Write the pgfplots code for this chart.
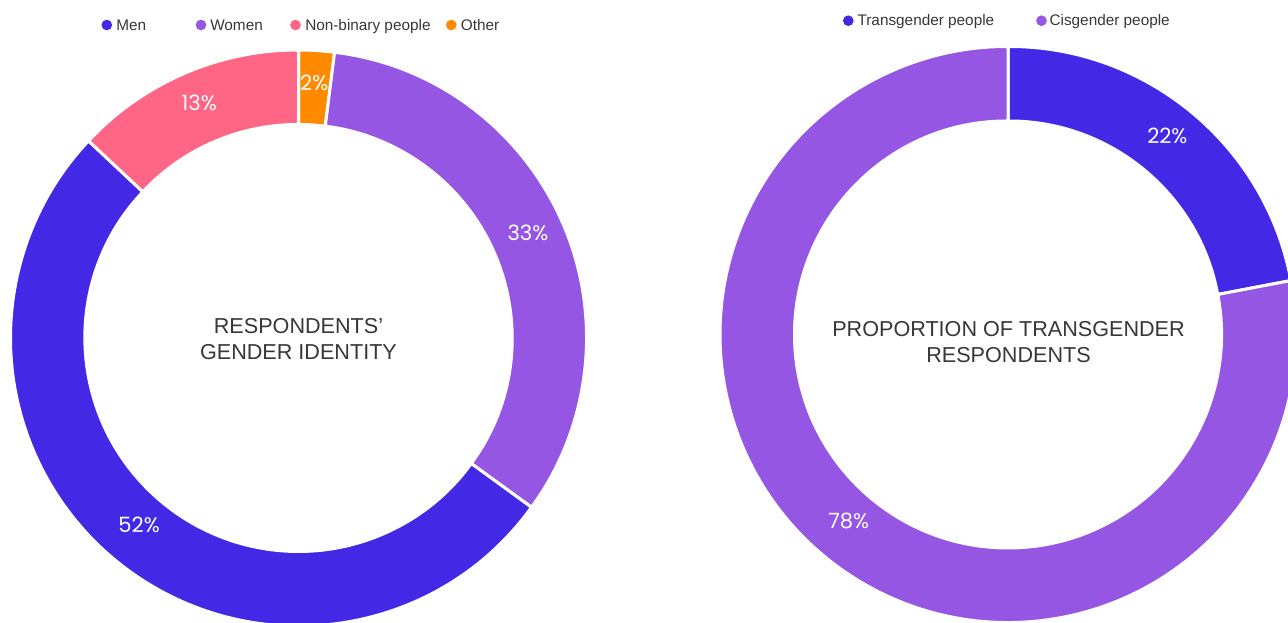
\documentclass[border=0pt]{standalone}
\usepackage{pgfplots}
\pgfplotsset{compat=1.18}
\usepackage{pgfplotstable}
\usepackage{fontspec}
\setmainfont{Liberation Sans}
\newfontfamily\pop{Poppins}
\definecolor{cMen}{RGB}{67,41,230}
\definecolor{cWomen}{RGB}{149,86,227}
\definecolor{cNB}{RGB}{255,101,132}
\definecolor{cOther}{RGB}{255,138,0}
\definecolor{ctext}{RGB}{55,55,55}

% shares in percent, clockwise from 12 o'clock
\pgfplotstableread{
label value color
Other 2 cOther
Women 33 cWomen
Men 52 cMen
Nonbinary 13 cNB
}\genderdata
\pgfplotstableread{
label value color
Transgender 22 cMen
Cisgender 78 cWomen
}\transdata

% #1 table, #2 cx, #3 cy, #4 outer radius, #5 inner radius, #6 label radius
\newcommand{\donut}[6]{%
  \pgfplotstablegetrowsof{#1}%
  \pgfmathtruncatemacro\nrows{\pgfplotsretval-1}%
  \gdef\cumsum{0}%
  \foreach \i in {0,...,\nrows}{%
    \pgfplotstablegetelem{\i}{value}\of{#1}\let\val\pgfplotsretval
    \pgfplotstablegetelem{\i}{color}\of{#1}\let\col\pgfplotsretval
    \pgfmathsetmacro\ta{\cumsum*3.6}%
    \pgfmathsetmacro\tb{(\cumsum+\val)*3.6}%
    \pgfmathsetmacro\tm{(\ta+\tb)/2}%
    \fill[fill=\col, draw=white, line width=2.25pt, line join=round, rounded corners=1.2pt]
      (axis cs:{#2+#4*sin(\ta)},{#3+#4*cos(\ta)})
      arc[start angle={90-\ta}, end angle={90-\tb}, radius={#4*0.75pt}]
      -- (axis cs:{#2+#5*sin(\tb)},{#3+#5*cos(\tb)})
      arc[start angle={90-\tb}, end angle={90-\ta}, radius={#5*0.75pt}] -- cycle;
    \node[text=white, font=\pop\fontsize{15.8}{18}\selectfont, inner sep=0pt]
      at (axis cs:{#2+#6*sin(\tm)},{#3+#6*cos(\tm)+6}) {\val\%};
    \pgfmathsetmacro\newsum{\cumsum+\val}%
    \xdef\cumsum{\newsum}%
  }%
}

\begin{document}
\begin{tikzpicture}
\begin{axis}[
  name=main,
  scale only axis,
  width=966pt, height=466.5pt,
  xmin=0, xmax=1288, ymin=0, ymax=622,
  axis lines=none,
  clip=true,
]
\pgfplotsextra{
  \donut{\genderdata}{298.5}{284}{288}{213.5}{250}
  \donut{\transdata}{1008}{287.5}{288}{213.5}{250}
  % legends
  \begin{scope}[every node/.style={anchor=base west, inner sep=0pt, text=ctext, font=\fontsize{11.5}{13}\selectfont}]
  \fill[cMen]   (axis cs:106.8,597) circle[radius=4pt];
  \node at (axis cs:116,591.3) {Men};
  \fill[cWomen] (axis cs:201,597) circle[radius=4pt];
  \node at (axis cs:210,591.3) {Women};
  \fill[cNB]    (axis cs:295.5,597) circle[radius=4pt];
  \node at (axis cs:305,591.3) {Non-binary people};
  \fill[cOther] (axis cs:451.3,597) circle[radius=4pt];
  \node at (axis cs:460.7,591.3) {Other};
  \fill[cMen]   (axis cs:848.3,601.3) circle[radius=4pt];
  \node at (axis cs:857.3,596.3) {Transgender people};
  \fill[cWomen] (axis cs:1041.5,601.3) circle[radius=4pt];
  \node at (axis cs:1049.3,596.3) {Cisgender people};
  \end{scope}
  % centre titles
  \node[align=center, text=ctext, font=\fontsize{16.2}{19.5}\selectfont]
    at (axis cs:298.5,283) {RESPONDENTS’\\GENDER IDENTITY};
  \node[align=center, text=ctext, font=\fontsize{16.2}{19.5}\selectfont]
    at (axis cs:1008.5,279.5) {PROPORTION OF TRANSGENDER\\RESPONDENTS};
}
\end{axis}
\pgfresetboundingbox
\useasboundingbox (main.south west) rectangle (main.north east);
\end{tikzpicture}
\end{document}
